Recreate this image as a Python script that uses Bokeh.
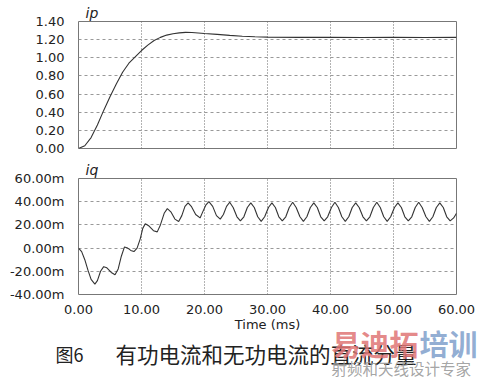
from bokeh.plotting import figure
from bokeh.models import Range1d, FixedTicker, Title
from bokeh.core.properties import value
from bokeh.layouts import column
from bokeh.embed import file_html
from bokeh.resources import INLINE

# ---- data ----
x_ticks = [0, 10, 20, 30, 40, 50, 60]
x_tick_labels = ["0.00", "10.00", "20.00", "30.00", "40.00", "50.00", "60.00"]
ip_ticks = [0.0, 0.2, 0.4, 0.6, 0.8, 1.0, 1.2, 1.4]
ip_tick_labels = ["0.00", "0.20", "0.40", "0.60", "0.80", "1.00", "1.20", "1.40"]
iq_ticks = [-40, -20, 0, 20, 40, 60]
iq_tick_labels = ["-40.00m", "-20.00m", "0.00m", "20.00m", "40.00m", "60.00m"]

ip_t = [0, 1, 2, 3, 4, 5, 6, 7, 8, 9, 10, 11, 12, 13, 14, 15, 16, 17, 18, 19, 20,
        22, 24, 26, 28, 30, 35, 40, 45, 50, 55, 60]
ip_v = [0.0, 0.03, 0.12, 0.26, 0.42, 0.57, 0.71, 0.84, 0.94, 1.01, 1.08, 1.14, 1.19,
        1.225, 1.25, 1.265, 1.275, 1.28, 1.278, 1.274, 1.268, 1.258, 1.247, 1.238,
        1.232, 1.228, 1.225, 1.225, 1.224, 1.225, 1.224, 1.225]

iq_t = [0, 0.5, 1.0, 1.5, 2.0, 2.6, 3.0, 3.5, 4.0, 4.5, 5.2, 5.8, 6.3, 6.8, 7.3, 7.8,
        8.3, 8.8, 9.3, 9.8, 10.2, 10.6, 11.2, 11.9, 12.5, 13.0, 13.6, 14.1, 14.7,
        15.3, 15.9, 16.4, 16.9, 17.4, 17.9, 18.6, 19.3, 19.7, 20.2, 20.7, 21.3, 21.9,
        22.5, 23.0, 23.5,
        24.0, 24.55, 25.15, 25.7, 26.25, 26.8, 27.35, 27.9, 28.45, 29.0, 29.55, 30.15,
        30.7, 31.25, 31.8, 32.35, 32.9, 33.45, 34.0, 34.55, 35.15, 35.7, 36.25, 36.8,
        37.35, 37.9, 38.45, 39.0, 39.55, 40.15, 40.7, 41.25, 41.8, 42.35, 42.9, 43.45,
        44.0, 44.55, 45.15, 45.7, 46.25, 46.8, 47.35, 47.9, 48.45, 49.0, 49.55, 50.15,
        50.7, 51.25, 51.8, 52.35, 52.9, 53.45, 54.0, 54.55, 55.15, 55.7, 56.25, 56.8,
        57.35, 57.9, 58.45, 59.0, 59.55, 60.0]
iq_v = [0, -3, -10, -19, -27, -31, -28, -20, -16, -17, -21, -23, -18, -7, 1, 0,
        -2, -3, 0, 8, 17, 21, 19, 15, 14, 20, 30, 34, 31,
        25, 23, 28, 36, 39, 36, 29, 26, 31, 37, 40, 36, 28,
        25, 29, 36,
        39.5, 35, 27, 23.5, 27, 35, 39, 35, 27, 23, 27, 35,
        39, 35, 27, 23.5, 27, 35, 39.5, 35, 27, 23, 27, 35,
        39, 35, 27, 23.5, 27, 35, 39.5, 35, 27, 23, 27, 35,
        39, 35, 27, 23.5, 27, 35, 39.5, 35, 27, 23, 27, 35,
        39, 35, 27, 23.5, 27, 35, 39.5, 35, 27, 23, 27, 35,
        39, 35, 27, 23.5, 26, 30]

ip_name = "ip"
iq_name = "iq"
x_title = "Time (ms)"
caption_fig = "图6"
caption_text = "有功电流和无功电流的直流分量"
wm_red = "易迪拓"
wm_blue = "培训"
wm_sub = "射频和天线设计专家"

FONT = "DejaVu Sans"
CJK = "Noto Sans CJK SC"
LINE = "#333333"


def style(p, yt, ylabels, show_x):
    p.outline_line_color = "#777777"
    p.outline_line_width = 1
    p.background_fill_color = "white"
    p.border_fill_color = "white"
    p.xaxis.ticker = FixedTicker(ticks=x_ticks)
    p.yaxis.ticker = FixedTicker(ticks=yt)
    p.yaxis.major_label_overrides = {t: s for t, s in zip(yt, ylabels)}
    p.xaxis.major_label_overrides = {t: s for t, s in zip(x_ticks, x_tick_labels)}
    for ax in (p.xaxis, p.yaxis):
        ax.axis_line_color = None
        ax.major_tick_line_color = None
        ax.minor_tick_line_color = None
        ax.major_label_text_font = FONT
        ax.major_label_text_font_size = "13px"
        ax.major_label_text_color = "#222222"
    p.yaxis.major_label_standoff = 8
    p.xaxis.major_label_standoff = 4
    p.xgrid.grid_line_color = "#666666"
    p.xgrid.grid_line_dash = "1 2"
    p.ygrid.grid_line_color = "#999999"
    p.ygrid.grid_line_dash = "3 3"
    if not show_x:
        p.xaxis.visible = False


def name_title(txt):
    return Title(text=txt, align="left", offset=7, standoff=2,
                 text_font=FONT, text_font_size="14px", text_font_style="italic",
                 text_color="#222222")


p1 = figure(width=482, height=158, output_backend="svg", toolbar_location=None,
            x_range=Range1d(0, 60), y_range=Range1d(0, 1.4),
            min_border_left=78, min_border_right=26, min_border_top=21,
            min_border_bottom=10)
style(p1, ip_ticks, ip_tick_labels, False)
p1.add_layout(name_title(ip_name), "above")
p1.line(ip_t, ip_v, line_color=LINE, line_width=1.1)

p2 = figure(width=482, height=158, output_backend="svg", toolbar_location=None,
            x_range=Range1d(0, 60), y_range=Range1d(-40, 60),
            min_border_left=78, min_border_right=26, min_border_top=12,
            min_border_bottom=20)
style(p2, iq_ticks, iq_tick_labels, True)
p2.add_layout(name_title(iq_name), "above")
p2.line(iq_t, iq_v, line_color=LINE, line_width=1.1)

# bottom strip: axis title, caption and watermark (coordinates = page pixels)
p3 = figure(width=482, height=63, output_backend="svg", toolbar_location=None,
            x_range=Range1d(0, 482), y_range=Range1d(379, 316),
            min_border=0, x_axis_location=None, y_axis_location=None)
p3.frame_align = False
p3.outline_line_color = None
p3.grid.visible = False
p3.background_fill_color = "white"
p3.border_fill_color = "white"

p3.text(x=[267], y=[324], text=[x_title], text_font=value(FONT), text_font_size="13px",
        text_align="center", text_baseline="middle", text_color="#222222")
p3.text(x=[55], y=[353], text=[caption_fig], text_font=value(CJK), text_font_size="18px",
        text_align="left", text_baseline="middle", text_color="#222222")
p3.text(x=[115], y=[353], text=[caption_text], text_font=value(CJK), text_font_size="21.5px",
        text_align="left", text_baseline="middle", text_color="#222222")
p3.text(x=[331], y=[342], text=[wm_red], text_font=value(CJK), text_font_size="29px",
        text_font_style="bold", text_align="left", text_baseline="middle",
        text_color="#e07575", text_alpha=0.85)
p3.text(x=[419], y=[342], text=[wm_blue], text_font=value(CJK), text_font_size="29px",
        text_font_style="bold", text_align="left", text_baseline="middle",
        text_color="#7f9fcc", text_alpha=0.85)
p3.text(x=[331], y=[367], text=[wm_sub], text_font=value(CJK), text_font_size="15.5px",
        text_align="left", text_baseline="middle", text_color="#9a9a9a", text_alpha=0.9)

layout = column(p1, p2, p3, spacing=0)
open("out.html", "w").write(file_html(layout, INLINE))
